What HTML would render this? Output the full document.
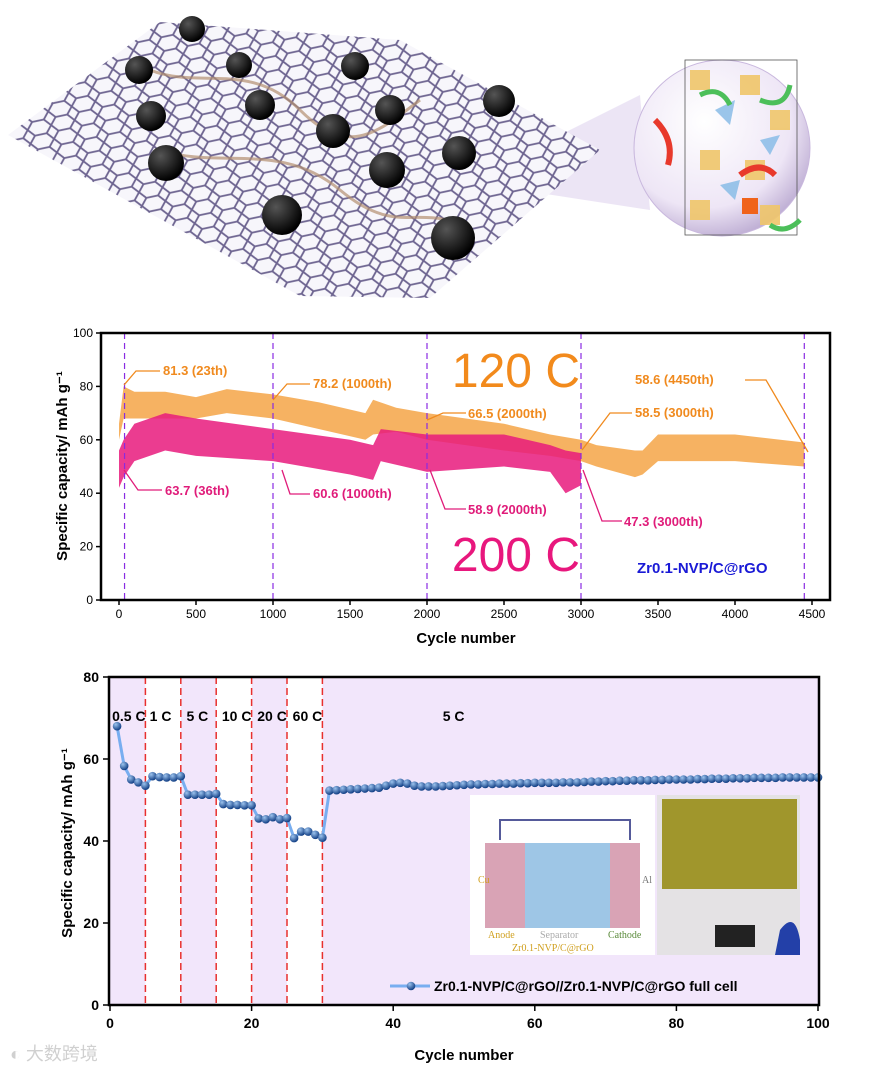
<!DOCTYPE html>
<html><head><meta charset="utf-8"><style>
html,body{margin:0;padding:0;background:#fff;}
svg{display:block;font-family:"Liberation Sans","Noto Sans CJK SC",sans-serif;}
</style></head><body>
<svg id="fig" width="882" height="1069" viewBox="0 0 882 1069" xmlns="http://www.w3.org/2000/svg">
<defs>
<pattern id="hex" width="24" height="14" patternUnits="userSpaceOnUse" patternTransform="rotate(-12)">
<path d="M0 7 L6 0 L18 0 L24 7 L18 14 L6 14 Z" fill="none" stroke="#6d6490" stroke-width="1.8"/>
</pattern>
<radialGradient id="bubble" cx="0.4" cy="0.35" r="0.7"><stop offset="0" stop-color="#ffffff"/><stop offset="0.7" stop-color="#eee6f6"/><stop offset="1" stop-color="#b9a8d0"/></radialGradient>
<radialGradient id="ball" cx="0.35" cy="0.3" r="0.7"><stop offset="0" stop-color="#555"/><stop offset="1" stop-color="#000"/></radialGradient>
<radialGradient id="dot" cx="0.35" cy="0.3" r="0.7"><stop offset="0" stop-color="#9cc3ee"/><stop offset="1" stop-color="#123f85"/></radialGradient>
</defs>

<g>
<polygon points="530,150 640,95 650,210 520,190" fill="#e7def2" opacity="0.8"/>
<polygon points="8,135 160,22 400,40 600,150 430,298 300,296" fill="#f7f6fb"/>
<polygon points="8,135 160,22 400,40 600,150 430,298 300,296" fill="url(#hex)"/>
<path d="M150,70 C200,90 250,60 300,110 S380,130 420,100 M160,150 C220,170 280,140 340,190 S420,200 470,230" stroke="#b49070" stroke-width="3" fill="none" opacity="0.7"/>
<g fill="url(#ball)">
<circle cx="192" cy="29" r="13"/><circle cx="139" cy="70" r="14"/><circle cx="239" cy="65" r="13"/><circle cx="355" cy="66" r="14"/>
<circle cx="151" cy="116" r="15"/><circle cx="260" cy="105" r="15"/><circle cx="333" cy="131" r="17"/><circle cx="390" cy="110" r="15"/>
<circle cx="499" cy="101" r="16"/><circle cx="166" cy="163" r="18"/><circle cx="387" cy="170" r="18"/><circle cx="459" cy="153" r="17"/>
<circle cx="282" cy="215" r="20"/><circle cx="453" cy="238" r="22"/>
</g>
<circle cx="722" cy="148" r="88" fill="url(#bubble)" stroke="#c9b8de"/>
<rect x="685" y="60" width="112" height="175" fill="none" stroke="#555" stroke-width="0.8"/>
<g fill="#f0c66a" opacity="0.9"><rect x="690" y="70" width="20" height="20"/><rect x="740" y="75" width="20" height="20"/><rect x="770" y="110" width="20" height="20"/><rect x="700" y="150" width="20" height="20"/><rect x="745" y="160" width="20" height="20"/><rect x="690" y="200" width="20" height="20"/><rect x="760" y="205" width="20" height="20"/></g>
<g fill="#8fbfe8" opacity="0.9"><polygon points="715,110 735,100 730,125"/><polygon points="760,140 780,135 770,155"/><polygon points="720,185 740,180 735,200"/></g>
<rect x="742" y="198" width="16" height="16" fill="#f0631b"/>
<path d="M655,120 Q675,140 668,165" stroke="#e8392c" stroke-width="6" fill="none"/>
<path d="M700,95 Q720,85 730,105" stroke="#4cbf5a" stroke-width="5" fill="none"/>
<path d="M760,100 Q785,110 790,85" stroke="#4cbf5a" stroke-width="5" fill="none"/>
<path d="M740,175 Q760,160 775,175" stroke="#e8392c" stroke-width="6" fill="none"/>
<path d="M770,225 Q785,235 800,220" stroke="#4cbf5a" stroke-width="5" fill="none"/>
</g>

<g id="chart1"></g>
<g id="chart2"></g>

<text x="10" y="1060" font-size="18" fill="#d0d0d0">◐ 大数跨境</text>
</svg>
<script>
const c1Cycles120 = [0, 30, 100, 300, 500, 700, 1000, 1300, 1600, 1650, 1800, 2000, 2500, 2800, 3000, 3100, 3350, 3400, 3500, 4000, 4450];
const c1Upper120  = [66, 80, 78, 78, 76, 79, 77, 74, 70, 75, 72, 70, 66, 62, 60, 58, 56, 56, 62, 62, 59];
const c1Lower120  = [60, 68, 68, 68, 68, 70, 68, 64, 60, 62, 63, 60, 56, 54, 52, 50, 46, 47, 52, 52, 50];
const c1Cycles200 = [0, 30, 100, 300, 500, 1000, 1500, 1650, 1700, 2000, 2500, 2800, 2900, 3000];
const c1Upper200  = [56, 60, 66, 70, 68, 64, 60, 58, 64, 62, 62, 58, 56, 55];
const c1Lower200  = [42, 46, 52, 56, 54, 52, 47, 45, 52, 48, 50, 48, 40, 43];
const c1XTicks = [0, 500, 1000, 1500, 2000, 2500, 3000, 3500, 4000, 4500];
const c1YTicks = [0, 20, 40, 60, 80, 100];
const c1Markers = [36, 1000, 2000, 3000, 4450];

const c2Cycles = [];
for (let i = 1; i <= 100; i++) c2Cycles.push(i);
const c2Capacity = [68,58.3,55,54.3,53.5,55.8,55.6,55.5,55.5,55.8,51.3,51.3,51.3,51.3,51.5,49,48.8,48.8,48.7,48.7,45.5,45.3,45.8,45.3,45.6,40.7,42.3,42.3,41.5,40.8,
52.3,52.4,52.5,52.6,52.7,52.8,52.9,53,53.5,54,54.2,54,53.5,53.3,53.3,53.3,53.4,53.5,53.6,53.7,53.8,53.8,53.9,53.9,54,54,54,54.1,54.1,54.2,
54.2,54.2,54.2,54.3,54.3,54.3,54.4,54.5,54.5,54.6,54.6,54.7,54.7,54.8,54.8,54.8,54.9,54.9,55,55,55,55,55.1,55.1,55.2,55.2,55.2,55.3,55.3,55.3,
55.4,55.4,55.4,55.4,55.5,55.5,55.5,55.5,55.5,55.5];
const c2XTicks = [0, 20, 40, 60, 80, 100];
const c2YTicks = [0, 20, 40, 60, 80];
const c2Boundaries = [5, 10, 15, 20, 25, 30];
const c2RateLabels = ["0.5 C", "1 C", "5 C", "10 C", "20 C", "60 C", "5 C"];
const c2RateCycles = [0.3, 5.6, 10.8, 15.8, 20.8, 25.8, 47];

const NS = "http://www.w3.org/2000/svg";
function mk(parent, tag, attrs, text) {
  const e = document.createElementNS(NS, tag);
  for (const k in attrs) e.setAttribute(k, attrs[k]);
  if (text !== undefined) e.textContent = text;
  parent.appendChild(e);
  return e;
}

(function () {
  const g = document.getElementById('chart1');
  const X = c => 119 + c * 0.154;
  const Y = v => 600 - v * 2.67;
  function band(cyc, up, lo, color, name) {
    let pts = cyc.map((c, i) => X(c) + ',' + Y(up[i]));
    for (let i = cyc.length - 1; i >= 0; i--) pts.push(X(cyc[i]) + ',' + Y(lo[i]));
    const p = mk(g, 'polygon', { points: pts.join(' '), fill: color, opacity: 0.85 });
    
    
  }
  band(c1Cycles120, c1Upper120, c1Lower120, '#f5a447', 'series-120c');
  band(c1Cycles200, c1Upper200, c1Lower200, '#e81a7c', 'series-200c');
  c1Markers.forEach(m => {
    const l = mk(g, 'line', { x1: X(m), x2: X(m), y1: 333, y2: 600, stroke: '#8a2be2', 'stroke-width': 1.2, 'stroke-dasharray': '6,4' });
    
    
  });
  const fr = mk(g, 'rect', { x: 101, y: 333, width: 729, height: 267, fill: 'none', stroke: '#000', 'stroke-width': 2.5 });
  
  
  c1XTicks.forEach(t => {
    mk(g, 'line', { x1: X(t), x2: X(t), y1: 600, y2: 605, stroke: '#000', 'stroke-width': 1.5 });
    const tx = mk(g, 'text', { x: X(t), y: 618, 'font-size': 12, 'text-anchor': 'middle' }, t);
    
    
  });
  c1YTicks.forEach(t => {
    mk(g, 'line', { x1: 96, x2: 101, y1: Y(t), y2: Y(t), stroke: '#000', 'stroke-width': 1.5 });
    const tx = mk(g, 'text', { x: 93, y: Y(t) + 4, 'font-size': 12, 'text-anchor': 'end' }, t);
    
    
  });
  const xt = mk(g, 'text', { x: 466, y: 643, 'font-size': 15, 'font-weight': 'bold', 'text-anchor': 'middle' }, 'Cycle number');
  
  
  const yt = mk(g, 'text', { x: 0, y: 0, 'font-size': 15, 'font-weight': 'bold', 'text-anchor': 'middle', transform: 'translate(67,466) rotate(-90)' }, 'Specific capacity/ mAh g⁻¹');
  
  
  const ann = [
    ['81.3 (23th)', 163, 375, '#f08a1e', 'M124,385 L136,371 L160,371'],
    ['78.2 (1000th)', 313, 388, '#f08a1e', 'M273,400 L287,384 L310,384'],
    ['66.5 (2000th)', 468, 418, '#f08a1e', 'M427,420 L443,413 L466,413'],
    ['58.6 (4450th)', 635, 384, '#f08a1e', 'M745,380 L766,380 L808,452'],
    ['58.5 (3000th)', 635, 417, '#f08a1e', 'M582,450 L610,413 L632,413'],
    ['63.7 (36th)', 165, 495, '#e01c7a', 'M124,470 L138,490 L162,490'],
    ['60.6 (1000th)', 313, 498, '#e01c7a', 'M282,470 L290,494 L310,494'],
    ['58.9 (2000th)', 468, 514, '#e01c7a', 'M430,470 L445,509 L466,509'],
    ['47.3 (3000th)', 624, 526, '#e01c7a', 'M583,470 L602,521 L622,521']
  ];
  ann.forEach(a => {
    mk(g, 'path', { d: a[4], stroke: a[3], 'stroke-width': 1.3, fill: 'none' });
    const t = mk(g, 'text', { x: a[1], y: a[2], 'font-size': 13, 'font-weight': 'bold', fill: a[3] }, a[0]);
    
    
  });
  const r1 = mk(g, 'text', { x: 580, y: 387, 'font-size': 48, fill: '#f28a1c', 'text-anchor': 'end' }, '120 C');
  
  
  const r2 = mk(g, 'text', { x: 580, y: 571, 'font-size': 48, fill: '#e8177d', 'text-anchor': 'end' }, '200 C');
  
  
  const lb = mk(g, 'text', { x: 637, y: 573, 'font-size': 15, 'font-weight': 'bold', fill: '#1a1ad6' }, 'Zr0.1-NVP/C@rGO');
  
  
})();

(function () {
  const g = document.getElementById('chart2');
  const X = c => 110 + c * 7.08;
  const Y = v => 1005 - v * 4.1;
  const bg = mk(g, 'rect', { x: 110, y: 677, width: 708, height: 328, fill: '#f2e6fb' });
  
  
  for (let i = 0; i + 1 < c2Boundaries.length; i += 2) {
    const w = mk(g, 'rect', { x: X(c2Boundaries[i]), y: 677, width: X(c2Boundaries[i + 1]) - X(c2Boundaries[i]), height: 328, fill: '#fff' });
    
    
  }
  c2Boundaries.forEach(b => {
    const l = mk(g, 'line', { x1: X(b), x2: X(b), y1: 677, y2: 1005, stroke: '#e8302e', 'stroke-width': 1.5, 'stroke-dasharray': '7,4' });
    
    
  });
  c2RateLabels.forEach((s, i) => {
    const t = mk(g, 'text', { x: X(c2RateCycles[i]), y: 721, 'font-size': 14, 'font-weight': 'bold' }, s);
    
    
  });
  const in1 = mk(g, 'rect', { x: 470, y: 795, width: 185, height: 160, fill: '#fff' });
  
  
  mk(g, 'rect', { x: 485, y: 843, width: 40, height: 85, fill: '#d9a3b5' });
  mk(g, 'rect', { x: 525, y: 843, width: 85, height: 85, fill: '#9ec6e6' });
  mk(g, 'rect', { x: 610, y: 843, width: 30, height: 85, fill: '#d9a3b5' });
  mk(g, 'path', { d: 'M500,840 L500,820 L630,820 L630,840', stroke: '#555a9a', 'stroke-width': 2, fill: 'none' });
  mk(g, 'text', { x: 478, y: 883, 'font-size': 10, fill: '#d0a020', 'font-family': 'Liberation Serif' }, 'Cu');
  mk(g, 'text', { x: 642, y: 883, 'font-size': 10, fill: '#777', 'font-family': 'Liberation Serif' }, 'Al');
  mk(g, 'text', { x: 488, y: 938, 'font-size': 10, fill: '#d0a020', 'font-family': 'Liberation Serif' }, 'Anode');
  mk(g, 'text', { x: 540, y: 938, 'font-size': 10, fill: '#aaa', 'font-family': 'Liberation Serif' }, 'Separator');
  mk(g, 'text', { x: 608, y: 938, 'font-size': 10, fill: '#5a8a3a', 'font-family': 'Liberation Serif' }, 'Cathode');
  mk(g, 'text', { x: 512, y: 951, 'font-size': 10, fill: '#d0a020', 'font-family': 'Liberation Serif' }, 'Zr0.1-NVP/C@rGO');
  const in2 = mk(g, 'rect', { x: 657, y: 795, width: 143, height: 160, fill: '#e4e2e4' });
  
  
  mk(g, 'rect', { x: 662, y: 799, width: 135, height: 90, fill: '#a0962c' });
  mk(g, 'rect', { x: 715, y: 925, width: 40, height: 22, fill: '#222' });
  mk(g, 'path', { d: 'M780,930 q15,-20 20,10 v15 h-25 z', fill: '#2340a8' });
  const pts = c2Cycles.map((c, i) => X(c) + ',' + Y(c2Capacity[i])).join(' ');
  const ln = mk(g, 'polyline', { points: pts, fill: 'none', stroke: '#78aef0', 'stroke-width': 3 });
  
  
  c2Cycles.forEach((c, i) => {
    const p = mk(g, 'circle', { cx: X(c), cy: Y(c2Capacity[i]), r: 4.3, fill: 'url(#dot)' });
    
    
  });
  const fr = mk(g, 'rect', { x: 109, y: 677, width: 710, height: 328, fill: 'none', stroke: '#000', 'stroke-width': 2.5 });
  
  
  c2XTicks.forEach(t => {
    mk(g, 'line', { x1: X(t), x2: X(t), y1: 1005, y2: 1011, stroke: '#000', 'stroke-width': 1.5 });
    const tx = mk(g, 'text', { x: X(t), y: 1028, 'font-size': 14, 'font-weight': 'bold', 'text-anchor': 'middle' }, t);
    
    
  });
  c2YTicks.forEach(t => {
    mk(g, 'line', { x1: 103, x2: 109, y1: Y(t), y2: Y(t), stroke: '#000', 'stroke-width': 1.5 });
    const tx = mk(g, 'text', { x: 99, y: Y(t) + 5, 'font-size': 14, 'font-weight': 'bold', 'text-anchor': 'end' }, t);
    
    
  });
  const xt = mk(g, 'text', { x: 464, y: 1060, 'font-size': 15, 'font-weight': 'bold', 'text-anchor': 'middle' }, 'Cycle number');
  
  
  const yt = mk(g, 'text', { x: 0, y: 0, 'font-size': 15, 'font-weight': 'bold', 'text-anchor': 'middle', transform: 'translate(72,843) rotate(-90)' }, 'Specific capacity/ mAh g⁻¹');
  
  
  mk(g, 'line', { x1: 390, x2: 430, y1: 986, y2: 986, stroke: '#78aef0', 'stroke-width': 3 });
  mk(g, 'circle', { cx: 411, cy: 986, r: 4.3, fill: 'url(#dot)' });
  const lg = mk(g, 'text', { x: 434, y: 991, 'font-size': 14, 'font-weight': 'bold' }, 'Zr0.1-NVP/C@rGO//Zr0.1-NVP/C@rGO full cell');
  
  
})();
</script>
</body></html>
